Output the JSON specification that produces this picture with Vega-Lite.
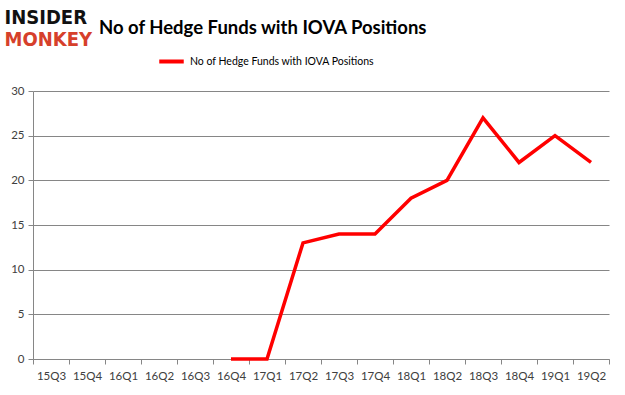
{
  "$schema": "https://vega.github.io/schema/vega-lite/v6.json",
  "width": 576,
  "height": 268,
  "autosize": {"type": "none"},
  "padding": {"left": 33, "top": 91, "right": 16, "bottom": 36},
  "background": "white",
  "title": {
    "text": "No of Hedge Funds with IOVA Positions",
    "anchor": "start",
    "frame": "group",
    "dx": 66,
    "dy": 30,
    "fontSize": 18.5,
    "font": "Lato",
    "fontWeight": "bold",
    "color": "#000000",
    "offset": 0
  },
  "data": {
    "values": [
      {"quarter": "16Q4", "funds": 0, "series": "No of Hedge Funds with IOVA Positions"},
      {"quarter": "17Q1", "funds": 0, "series": "No of Hedge Funds with IOVA Positions"},
      {"quarter": "17Q2", "funds": 13, "series": "No of Hedge Funds with IOVA Positions"},
      {"quarter": "17Q3", "funds": 14, "series": "No of Hedge Funds with IOVA Positions"},
      {"quarter": "17Q4", "funds": 14, "series": "No of Hedge Funds with IOVA Positions"},
      {"quarter": "18Q1", "funds": 18, "series": "No of Hedge Funds with IOVA Positions"},
      {"quarter": "18Q2", "funds": 20, "series": "No of Hedge Funds with IOVA Positions"},
      {"quarter": "18Q3", "funds": 27, "series": "No of Hedge Funds with IOVA Positions"},
      {"quarter": "18Q4", "funds": 22, "series": "No of Hedge Funds with IOVA Positions"},
      {"quarter": "19Q1", "funds": 25, "series": "No of Hedge Funds with IOVA Positions"},
      {"quarter": "19Q2", "funds": 22, "series": "No of Hedge Funds with IOVA Positions"}
    ]
  },
  "mark": {"type": "line", "strokeWidth": 3.5, "strokeJoin": "miter"},
  "encoding": {
    "x": {
      "field": "quarter",
      "type": "ordinal",
      "bandPosition": 0.5,
      "scale": {
        "type": "band",
        "paddingInner": 0,
        "paddingOuter": 0,
        "domain": ["15Q3","15Q4","16Q1","16Q2","16Q3","16Q4","17Q1","17Q2","17Q3","17Q4","18Q1","18Q2","18Q3","18Q4","19Q1","19Q2"]
      },
      "axis": {
        "title": "MONKEY",
        "titleColor": "#D6402B",
        "titleFont": "DejaVu Sans Condensed",
        "titleFontWeight": 900,
        "titleFontSize": 20,
        "titleAngle": 0,
        "titleAlign": "left",
        "titleBaseline": "top",
        "titleX": -29,
        "titleY": -330,
        "labelAngle": 0,
        "labelFont": "Lato",
        "labelFontSize": 11.5,
        "labelColor": "#404040",
        "labelPadding": 6,
        "tickBand": "extent",
        "tickSize": 5,
        "tickColor": "#868686",
        "domainColor": "#868686",
        "grid": false
      }
    },
    "y": {
      "field": "funds",
      "type": "quantitative",
      "scale": {"domain": [0, 30], "nice": false},
      "axis": {
        "values": [0, 5, 10, 15, 20, 25, 30],
        "title": "INSIDER",
        "titleColor": "#111111",
        "titleFont": "DejaVu Sans Condensed",
        "titleFontWeight": 900,
        "titleFontSize": 20,
        "titleAngle": 0,
        "titleAlign": "left",
        "titleBaseline": "top",
        "titleX": -29,
        "titleY": -84,
        "labelFont": "Lato",
        "labelFontSize": 11.5,
        "labelColor": "#404040",
        "labelPadding": 4,
        "tickSize": 5,
        "tickColor": "#868686",
        "domainColor": "#868686",
        "grid": true,
        "gridColor": "#868686",
        "gridWidth": 1
      }
    },
    "color": {
      "field": "series",
      "type": "nominal",
      "scale": {"range": ["#FF0000"]},
      "legend": {
        "title": null,
        "orient": "none",
        "legendX": 124,
        "legendY": -44,
        "symbolType": "stroke",
        "symbolSize": 600,
        "symbolStrokeWidth": 4,
        "labelFont": "Lato",
        "labelFontSize": 10.5,
        "labelColor": "#000000",
        "labelOffset": 4,
        "labelLimit": 400
      }
    }
  },
  "config": {
    "view": {"stroke": null}
  }
}
